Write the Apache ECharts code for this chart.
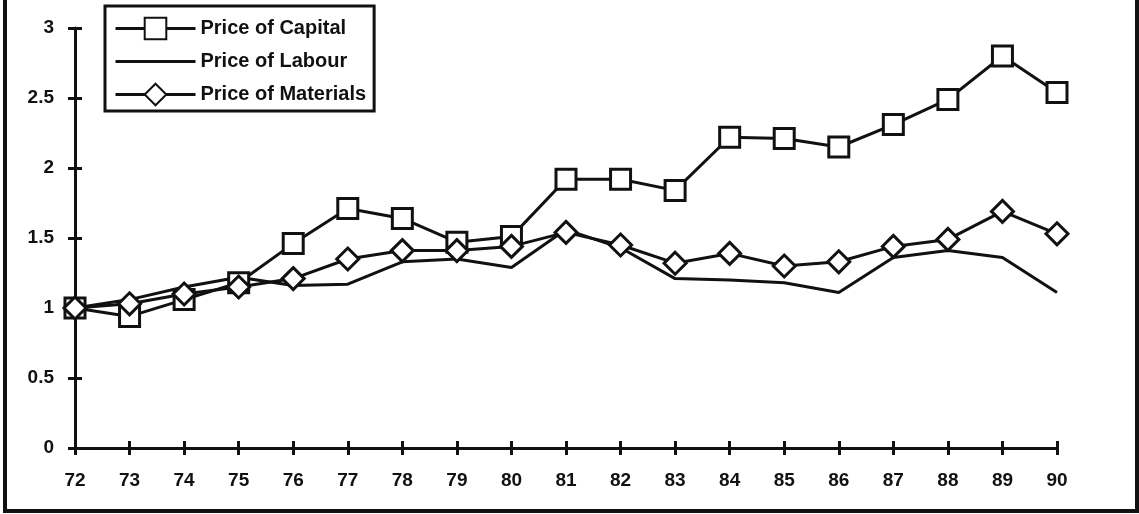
<!DOCTYPE html>
<html>
<head>
<meta charset="utf-8">
<script src="https://cdn.jsdelivr.net/npm/echarts@6/dist/echarts.min.js"></script>
<style>
  html, body { margin: 0; padding: 0; background: #fff; }
  #chart { width: 1139px; height: 514px; }
</style>
</head>
<body>
<div id="chart"></div>
<script>
// Years (19-century shorthand) on the category axis
var years = ['72', '73', '74', '75', '76', '77', '78', '79', '80', '81',
             '82', '83', '84', '85', '86', '87', '88', '89', '90'];

// Input price indices, 1972 = 1
var priceCapital = [1.00, 0.94, 1.06, 1.18, 1.46, 1.71, 1.64, 1.47, 1.51, 1.92,
                    1.92, 1.84, 2.22, 2.21, 2.15, 2.31, 2.49, 2.80, 2.54];
var priceLabour = [1.00, 1.06, 1.15, 1.22, 1.16, 1.17, 1.33, 1.35, 1.29, 1.56,
                   1.43, 1.21, 1.20, 1.18, 1.11, 1.36, 1.41, 1.36, 1.11];
var priceMaterials = [1.00, 1.03, 1.10, 1.15, 1.21, 1.35, 1.41, 1.41, 1.44, 1.54,
                      1.45, 1.32, 1.39, 1.30, 1.33, 1.44, 1.49, 1.69, 1.53];

var INK = '#111';
var FONT = '"Liberation Sans", Arial, sans-serif';

var chart = echarts.init(document.getElementById('chart'), null, { renderer: 'canvas' });

var lineStyle = { color: INK, width: 3 };

chart.setOption({
  backgroundColor: '#fff',
  animation: false,
  grid: { left: 75, right: 82, top: 28, bottom: 66, containLabel: false },
  legend: {
    orient: 'vertical',
    left: 105,
    top: 6,
    padding: [9, 8, 3, 9],
    itemGap: 6,
    itemWidth: 80,
    itemHeight: 27,
    borderColor: INK,
    borderWidth: 3,
    borderRadius: 0,
    lineStyle: { color: INK, width: 3 },
    textStyle: { color: INK, fontFamily: FONT, fontWeight: 'bold', fontSize: 20, lineHeight: 27 },
    data: [
      'Price of Capital',
      // plain line sample, no marker
      { name: 'Price of Labour', itemStyle: { color: 'rgba(0,0,0,0)', borderColor: 'rgba(0,0,0,0)', borderWidth: 0 } },
      'Price of Materials'
    ]
  },
  xAxis: [{
    type: 'category',
    data: years,
    boundaryGap: false,
    axisLine: { lineStyle: { color: INK, width: 3 } },
    axisTick: { show: true, inside: false, length: 7, lineStyle: { color: INK, width: 3 } },
    axisLabel: { color: INK, fontFamily: FONT, fontWeight: 'bold', fontSize: 19, margin: 23 },
    splitLine: { show: false }
  }, {
    type: 'category',
    data: years,
    boundaryGap: false,
    position: 'bottom',
    axisLine: { show: false },
    axisTick: { show: true, inside: true, length: 7, lineStyle: { color: INK, width: 3 } },
    axisLabel: { show: false },
    splitLine: { show: false }
  }],
  yAxis: [{
    type: 'value',
    min: 0,
    max: 3,
    interval: 0.5,
    axisLine: { show: true, lineStyle: { color: INK, width: 3 } },
    axisTick: { show: true, inside: false, length: 7, lineStyle: { color: INK, width: 3 } },
    axisLabel: { color: INK, fontFamily: FONT, fontWeight: 'bold', fontSize: 19, margin: 21 },
    splitLine: { show: false }
  }, {
    type: 'value',
    min: 0,
    max: 3,
    interval: 0.5,
    position: 'left',
    axisLine: { show: false },
    axisTick: { show: true, inside: true, length: 7, lineStyle: { color: INK, width: 3 } },
    axisLabel: { show: false },
    splitLine: { show: false }
  }],
  series: [{
    name: 'Price of Capital',
    type: 'line',
    data: priceCapital,
    symbol: 'rect',
    symbolSize: 20,
    showAllSymbol: true,
    lineStyle: lineStyle,
    itemStyle: { color: '#fff', borderColor: INK, borderWidth: 3 },
    z: 3
  }, {
    name: 'Price of Labour',
    type: 'line',
    data: priceLabour,
    symbol: 'none',
    lineStyle: lineStyle,
    itemStyle: { color: INK },
    z: 2
  }, {
    name: 'Price of Materials',
    type: 'line',
    data: priceMaterials,
    symbol: 'diamond',
    symbolSize: 22,
    showAllSymbol: true,
    lineStyle: lineStyle,
    itemStyle: { color: '#fff', borderColor: INK, borderWidth: 3 },
    z: 4
  }],
  graphic: [{
    type: 'polyline',
    shape: { points: [[5, 0], [5, 511], [1137, 511], [1137, 0]] },
    style: { stroke: INK, lineWidth: 4, fill: null },
    silent: true
  }]
});
</script>
</body>
</html>
